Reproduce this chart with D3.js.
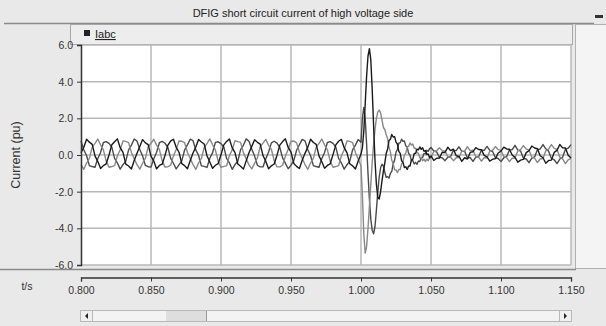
<!DOCTYPE html>
<html><head><meta charset="utf-8">
<script src="https://cdn.jsdelivr.net/npm/d3@7/dist/d3.min.js"></script>
<style>
body{margin:0;background:#e9e9e9;}
svg{display:block;font-family:"Liberation Sans",Arial,sans-serif;}
</style>
</head><body>
<svg id="c" width="606" height="326"></svg>
<script>
// ---------- data ----------
const title = "DFIG short circuit current of high voltage side";
const yLabel = "Current (pu)";
const xLabel = "t/s";
const legendLabel = "Iabc";
const xTicks = [0.800, 0.850, 0.900, 0.950, 1.000, 1.050, 1.100, 1.150];
const yTicks = [-6, -4, -2, 0, 2, 4, 6];

// sampling of the three segments (s)
const preStart = 0.800, preStep = 0.002;
const faultStart = 1.000, faultStep = 0.001;
const postStart = 1.050, postStep = 0.002;

// phase A (pu)
const iaPre = [
.12,.42,.86,.70,.58,-.05,-.36,-.74,-.58,-.48,
.00,.56,.72,.88,.40,.14,-.50,-.60,-.76,-.30,
.10,.46,.84,.66,.57,-.06,-.33,-.76,-.57,-.50,
-.02,.53,.76,.86,.42,.15,-.47,-.58,-.75,-.31,
.11,.44,.85,.71,.60,-.04,-.38,-.73,-.56,-.47,
.01,.55,.74,.87,.39,.13,-.49,-.61,-.77,-.32,
.12,.47,.83,.69,.59,-.03,-.35,-.75,-.59,-.49,
-.01,.54,.73,.88,.41,.16,-.46,-.62,-.74,-.29,
.09,.43,.86,.68,.58,-.05,-.37,-.72,-.57,-.48,
.02,.55,.75,.85,.40,.12,-.48,-.59,-.76,-.33];
const iaFault = [
.05,.40,1.30,2.80,4.30,5.40,5.80,5.20,3.60,1.60,
-.30,-1.60,-2.30,-2.40,-2.00,-1.40,-.88,-.44,.08,.33,
.79,.86,1.12,.98,1.00,.70,.60,.20,.09,-.31,
-.40,-.69,-.64,-.79,-.60,-.60,-.28,-.24,.08,.09,
.32,.28,.44,.31,.39,.20,.24,.03,.06,-.15];
const iaPost = [
-.05,-.30,-.18,-.17,.15,.14,.42,.24,.32,-.04,
-.08,-.35,-.15,-.22,.14,.18,.40,.30,.29,-.02,
-.10,-.33,-.23,-.20,.11,.21,.43,.33,.31,.00,
-.13,-.39,-.28,-.24,.13,.24,.49,.38,.34,-.04,
-.15,-.45,-.30,-.28,.14,.25,.57,.39,.38,-.02,-.17];

// phase B (pu)
const ibPre = [
-.52,-.78,-.44,-.18,.43,.63,.87,.55,.28,-.33,
-.67,-.63,-.58,-.04,.29,.77,.74,.68,.14,-.20,
-.53,-.77,-.45,-.17,.44,.64,.86,.54,.29,-.32,
-.66,-.64,-.57,-.05,.30,.76,.75,.67,.15,-.19,
-.51,-.79,-.43,-.19,.42,.62,.88,.56,.27,-.34,
-.68,-.62,-.59,-.03,.28,.78,.73,.69,.13,-.21,
-.54,-.76,-.46,-.16,.45,.65,.85,.53,.30,-.31,
-.65,-.65,-.56,-.06,.31,.75,.76,.66,.16,-.18,
-.52,-.78,-.44,-.18,.43,.63,.87,.55,.28,-.33,
-.67,-.63,-.58,-.04,.29,.77,.74,.68,.14,-.22];
const ibFault = [
-.60,-2.20,-4.30,-5.35,-5.00,-4.00,-2.80,-1.60,-.40,.60,
1.40,2.00,2.35,2.45,2.30,1.90,1.50,1.39,1.10,.90,
.42,.17,-.30,-.47,-.81,-.81,-.96,-.79,-.79,-.48,
-.38,-.01,.10,.43,.47,.66,.54,.60,.37,.37,
.12,.10,-.15,-.13,-.32,-.23,-.36,-.23,-.32,-.14];
const ibPost = [
-.15,.19,.23,.40,.24,.22,-.09,-.12,-.31,-.15,
-.14,.20,.21,.45,.24,.26,-.10,-.11,-.34,-.14,
-.16,.21,.26,.46,.29,.25,-.09,-.14,-.36,-.18,
-.17,.22,.29,.51,.33,.27,-.12,-.17,-.41,-.22,
-.19,.23,.32,.57,.36,.31,-.12,-.21,-.47,-.26,-.19];

// phase C (pu)
const icPre = [
.77,.29,-.04,-.58,-.63,-.67,-.19,.14,.68,.73,
.63,.43,-.18,-.44,-.77,-.53,-.33,.28,.54,.87,
.76,.30,-.05,-.57,-.64,-.66,-.20,.15,.67,.74,
.64,.42,-.17,-.45,-.76,-.54,-.32,.27,.55,.86,
.78,.28,-.03,-.59,-.62,-.68,-.18,.13,.69,.72,
.62,.44,-.19,-.43,-.78,-.52,-.34,.29,.53,.88,
.75,.31,-.06,-.56,-.65,-.65,-.21,.16,.66,.75,
.65,.41,-.16,-.46,-.75,-.55,-.31,.26,.56,.85,
.77,.29,-.04,-.58,-.63,-.67,-.19,.14,.68,.73,
.63,.43,-.18,-.44,-.77,-.53,-.33,.28,.54,.84];
const icFault = [
.70,2.00,2.60,2.00,.60,-1.00,-2.40,-3.50,-4.10,-4.30,
-3.90,-3.00,-2.00,-1.20,-.70,-.50,-.60,-.94,-1.22,-1.18,
-1.26,-1.00,-.89,-.47,-.28,.15,.30,.64,.67,.86,
.74,.77,.50,.43,.09,.00,-.30,-.30,-.49,-.40,
-.51,-.33,-.36,-.13,-.14,.09,.06,.26,.20,.35];
const icPost = [
.41,.22,.17,-.13,-.15,-.31,-.12,-.08,.25,.24,
.45,.20,.20,-.16,-.14,-.35,-.11,-.10,.26,.25,
.47,.25,.19,-.15,-.19,-.36,-.15,-.09,.27,.29,
.53,.27,.22,-.18,-.22,-.42,-.17,-.11,.29,.33,
.57,.34,.21,-.19,-.26,-.47,-.22,-.12,.31,.37,.57];

const phases = [
  {name:"Ic", pre:icPre, fault:icFault, post:icPost, color:"#4a4a4a"},
  {name:"Ib", pre:ibPre, fault:ibFault, post:ibPost, color:"#888888"},
  {name:"Ia", pre:iaPre, fault:iaFault, post:iaPost, color:"#1a1a1a"}
];

// ---------- chart ----------
const svg = d3.select("#c");
const W = 606, H = 326;
const plot = {l:81, r:571, t:45, b:265};

svg.append("rect").attr("width",W).attr("height",H).attr("fill","#e9e9e9");

// title bar
svg.append("text").attr("x",303).attr("y",17).attr("text-anchor","middle")
  .attr("font-size",11).attr("fill","#222").text(title);
svg.append("line").attr("x1",4).attr("x2",594).attr("y1",23.5).attr("y2",23.5)
  .attr("stroke","#8a8a8a").attr("stroke-width",1.5);
svg.append("rect").attr("x",595).attr("y",15).attr("width",8).attr("height",3).attr("fill","#333");
svg.append("path").attr("d","M598,29 L603,33 L598,37 Z").attr("fill","#222");

// right strip
svg.append("rect").attr("x",575.5).attr("y",24.5).attr("width",31).attr("height",244)
  .attr("fill","#f4f4f4").attr("stroke","#b0b0b0");

// legend panel
svg.append("rect").attr("x",70.5).attr("y",24.5).attr("width",502).attr("height",20)
  .attr("fill","#ededed").attr("stroke","#a8a8a8");
svg.append("rect").attr("x",84).attr("y",30).attr("width",6).attr("height",6).attr("fill","#222");
svg.append("text").attr("x",95).attr("y",38).attr("font-size",11).attr("fill","#222")
  .attr("text-decoration","underline").text(legendLabel);

// plot background
svg.append("rect").attr("x",plot.l).attr("y",plot.t).attr("width",plot.r-plot.l)
  .attr("height",plot.b-plot.t).attr("fill","#ffffff");

const x = d3.scaleLinear().domain([0.8,1.15]).range([plot.l,plot.r]);
const y = d3.scaleLinear().domain([-6,6]).range([plot.b,plot.t]);

// grid
svg.append("g").selectAll("line").data(xTicks.slice(1)).join("line")
  .attr("x1",d=>x(d)).attr("x2",d=>x(d)).attr("y1",plot.t).attr("y2",plot.b)
  .attr("stroke","#b8b8b8").attr("stroke-width",1.5);
svg.append("g").selectAll("line").data(yTicks).join("line")
  .attr("x1",plot.l).attr("x2",plot.r).attr("y1",d=>y(d)).attr("y2",d=>y(d))
  .attr("stroke","#b8b8b8").attr("stroke-width",1.5);

// series
const line = d3.line().x(d=>x(d[0])).y(d=>y(d[1]));
function series(p){
  const pts = [];
  p.pre.forEach((v,i)=>pts.push([preStart+i*preStep, v]));
  p.fault.forEach((v,i)=>pts.push([faultStart+i*faultStep, v]));
  p.post.forEach((v,i)=>pts.push([postStart+i*postStep, v]));
  return pts;
}
svg.append("g").selectAll("path").data(phases).join("path")
  .attr("d",p=>line(series(p))).attr("fill","none")
  .attr("stroke",p=>p.color).attr("stroke-width",1.4).attr("stroke-linejoin","round");

// y axis
const fmt = d3.format(".1f");
const yAxis = svg.append("g").attr("transform",`translate(${plot.l},0)`)
  .call(d3.axisLeft(y).tickValues(yTicks).tickSize(4).tickPadding(4)
    .tickFormat(d=>fmt(d).replace("\u2212","-")));
yAxis.select(".domain").attr("stroke","#333").attr("stroke-width",1.5);
yAxis.selectAll(".tick line").attr("stroke","#333");
yAxis.selectAll("text").attr("font-size",10.5).attr("fill","#333")
  .attr("font-family","Liberation Sans, Arial, sans-serif");

svg.append("text").attr("transform","translate(20,155) rotate(-90)")
  .attr("text-anchor","middle").attr("font-size",12.5).attr("fill","#333").text(yLabel);

// bottom separator
svg.append("line").attr("x1",0).attr("x2",576).attr("y1",269.5).attr("y2",269.5)
  .attr("stroke","#8a8a8a").attr("stroke-width",1.5);

// x axis
const xAxis = svg.append("g").attr("transform","translate(0,277.5)")
  .call(d3.axisBottom(x).tickValues(xTicks).tickSize(4).tickPadding(5)
    .tickFormat(d3.format(".3f")));
xAxis.select(".domain").attr("stroke","#333").attr("stroke-width",1.3);
xAxis.selectAll(".tick line").attr("stroke","#333");
xAxis.selectAll("text").attr("font-size",10.5).attr("fill","#333")
  .attr("font-family","Liberation Sans, Arial, sans-serif");
svg.append("text").attr("x",27).attr("y",290).attr("text-anchor","middle")
  .attr("font-size",10.5).attr("fill","#333").text(xLabel);

// scrollbar
svg.append("rect").attr("x",80.5).attr("y",310.5).attr("width",491).attr("height",11)
  .attr("fill","#f3f3f3").attr("stroke","#b8b8b8");
svg.append("rect").attr("x",166).attr("y",311).attr("width",40).attr("height",10).attr("fill","#dedede");
svg.append("line").attr("x1",206.5).attr("x2",206.5).attr("y1",311).attr("y2",321).attr("stroke","#999");
svg.append("rect").attr("x",80.5).attr("y",310.5).attr("width",12).attr("height",11)
  .attr("fill","#f0f0f0").attr("stroke","#b8b8b8");
svg.append("rect").attr("x",559.5).attr("y",310.5).attr("width",12).attr("height",11)
  .attr("fill","#f0f0f0").attr("stroke","#b8b8b8");
svg.append("path").attr("d","M88,313 L85,316 L88,319 Z").attr("fill","#222");
svg.append("path").attr("d","M564,313 L567,316 L564,319 Z").attr("fill","#222");
</script>
</body></html>
